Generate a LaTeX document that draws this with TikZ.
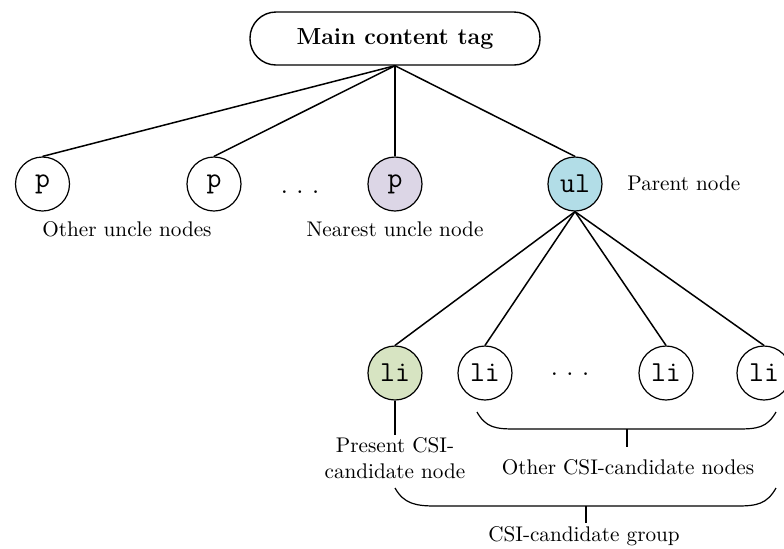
\documentclass[tikz,border=0pt]{standalone}
\usepackage{fontspec}
\usetikzlibrary{positioning}
\definecolor{uncleviolet}{HTML}{DCD6E6}
\definecolor{parentblue}{HTML}{B2DDE7}
\definecolor{presentgreen}{HTML}{D7E4C2}
\tikzset{
  tagnode/.style={draw, line width=0.7pt, rounded corners=13pt, minimum width=145pt,
    minimum height=26.5pt, font=\fontsize{11.6}{13}\selectfont\bfseries},
  elem/.style={draw, line width=0.6pt, circle, minimum size=27pt, inner sep=0pt,
    fill=white, font=\fontsize{14.5}{16}\ttfamily},
  caption/.style={font=\fontsize{10.6}{13}\selectfont, inner sep=1pt},
  edge/.style={line width=0.75pt},
  brace/.style={line width=0.6pt},
  dots/.style={font=\fontsize{14}{16}\selectfont}
}
\begin{document}
\begin{tikzpicture}[x=0.5pt, y=-0.5pt]
  \useasboundingbox (0,0) rectangle (784,548);
  \clip (0,0) rectangle (784,548);

  % root of the excerpt
  \node[tagnode] (main) at (395,38.5) {Main content tag};

  % sibling level
  \node[elem] (p1) at (42.5,184) {p};
  \node[elem] (p2) at (214,184) {p};
  \node[dots] (pd) at (300,192) {.\hspace{4pt}.\hspace{4pt}.};
  \node[elem, fill=uncleviolet] (p3) at (395,184) {p};
  \node[elem, fill=parentblue] (ul) at (575,184) {ul};

  \node[caption] (otheruncle) at (127,229) {Other uncle nodes};
  \node[caption] (nearest) at (395,229) {Nearest uncle node};
  \node[caption, anchor=west] (parent) at (625,183) {Parent node};

  % list items
  \node[elem, fill=presentgreen] (li1) at (395,373) {li};
  \node[elem] (li2) at (485,373) {li};
  \node[dots] (ld) at (570,374) {.\hspace{4pt}.\hspace{4pt}.};
  \node[elem] (li3) at (666,373) {li};
  \node[elem] (li4) at (764,373) {li};

  % tree edges
  \foreach \t in {p1,p2,p3,ul}
    \draw[edge] (main.south) -- (\t.north);
  \foreach \t in {li1,li2,li3,li4}
    \draw[edge] (ul.south) -- (\t.north);

  % present candidate
  \node[caption, align=center] (present) at (395,458)
    {Present CSI-\\candidate node};
  \draw[brace] (li1.south) -- (present.north);

  % brace over the other candidates
  \coordinate (b1l) at (477,412);
  \coordinate (b1r) at (776,412);
  \coordinate (b1m) at (627,429);
  \draw[brace] (b1l) .. controls (486,428) and (496,429) .. (516,429)
    -- (737,429) .. controls (757,429) and (767,428) .. (b1r);
  \node[caption] (others) at (628,467) {Other CSI-candidate nodes};
  \draw[brace] (b1m) -- ++(0,18) coordinate (b1t);

  % brace over the whole group
  \coordinate (b2l) at (395,488);
  \coordinate (b2r) at (776,488);
  \coordinate (b2m) at (586,506);
  \draw[brace] (b2l) .. controls (404,504) and (416,506) .. (436,506)
    -- (737,506) .. controls (757,506) and (767,504) .. (b2r);
  \node[caption] (group) at (584,536) {CSI-candidate group};
  \draw[brace] (b2m) -- ++(0,17) coordinate (b2t);
\end{tikzpicture}
\end{document}
